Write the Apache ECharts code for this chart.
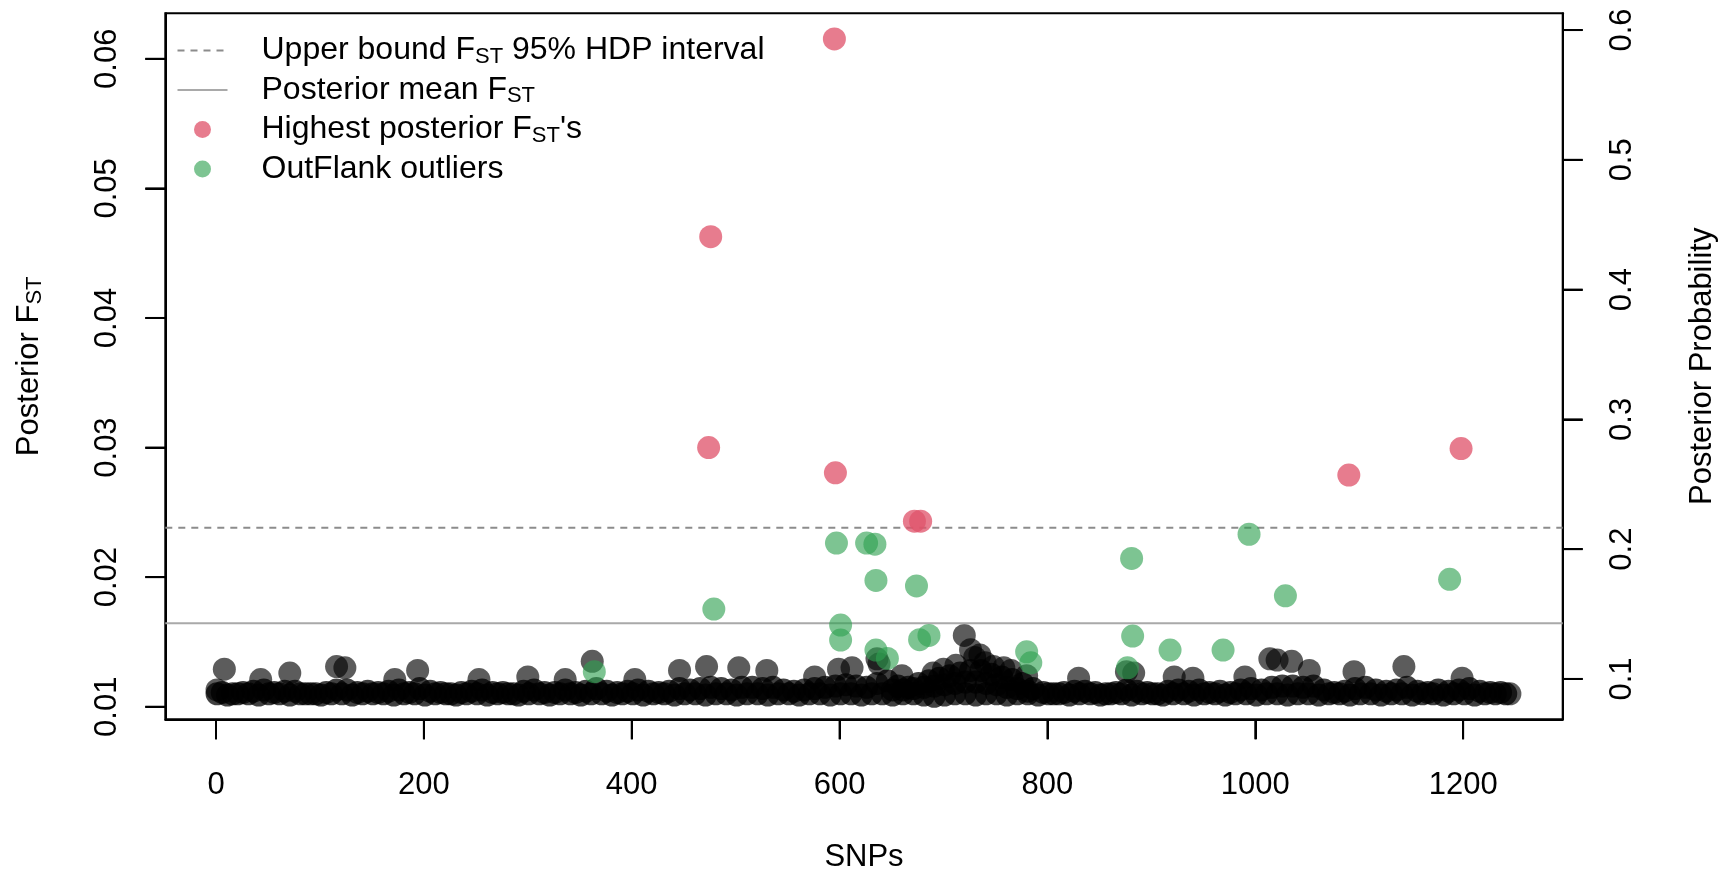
<!DOCTYPE html>
<html><head><meta charset="utf-8">
<script src="https://cdn.jsdelivr.net/npm/echarts@6/dist/echarts.min.js"></script>
<style>html,body{margin:0;padding:0;background:#fff}#c{width:1723px;height:872px}</style>
</head><body><div id="c"></div>
<script>
// ---- data ----
const xTicks = [0, 200, 400, 600, 800, 1000, 1200];
const fstTicks = [0.01, 0.02, 0.03, 0.04, 0.05, 0.06];
const probTicks = [0.1, 0.2, 0.3, 0.4, 0.5, 0.6];
const upperHDP = 0.02382;   // upper bound Fst 95% HDP interval
const meanFst = 0.01645;    // posterior mean Fst

// posterior Fst, bulk of SNPs (SNP 1, 11, 21, ...)
const bandBaseStart = 1, bandStep = 10;
const bandBase = [
0.0110,0.0109,0.0110,0.0110,0.0109,0.0110,0.0110,0.0109,0.0110,0.0110,
0.0109,0.0110,0.0110,0.0109,0.0110,0.0110,0.0110,0.0109,0.0110,0.0110,
0.0109,0.0110,0.0110,0.0109,0.0110,0.0110,0.0109,0.0110,0.0110,0.0109,
0.0110,0.0110,0.0109,0.0110,0.0110,0.0109,0.0110,0.0110,0.0109,0.0110,
0.0110,0.0109,0.0110,0.0110,0.0109,0.0110,0.0110,0.0109,0.0110,0.0110,
0.0109,0.0110,0.0110,0.0109,0.0110,0.0110,0.0109,0.0110,0.0110,0.0109,
0.0110,0.0110,0.0109,0.0110,0.0110,0.0109,0.0110,0.0110,0.0109,0.0108,
0.0109,0.0110,0.0110,0.0109,0.0110,0.0110,0.0109,0.0110,0.0110,0.0109,
0.0110,0.0110,0.0109,0.0110,0.0110,0.0109,0.0110,0.0110,0.0109,0.0110,
0.0110,0.0109,0.0110,0.0110,0.0109,0.0110,0.0110,0.0109,0.0110,0.0110,
0.0109,0.0110,0.0110,0.0109,0.0110,0.0110,0.0109,0.0110,0.0110,0.0109,
0.0110,0.0110,0.0109,0.0110,0.0110,0.0109,0.0110,0.0110,0.0109,0.0110,
0.0110,0.0109,0.0110,0.0110,0.0110
];
// upper edge of the bulk (SNP 6, 16, 26, ...)
const bandUpperStart = 6;
const bandUpper = [
0.0111,0.0110,0.0111,0.0112,0.0113,0.0111,0.0112,0.0112,0.0110,0.0110,
0.0111,0.0113,0.0113,0.0111,0.0112,0.0111,0.0112,0.0113,0.0111,0.0114,
0.0112,0.0111,0.0110,0.0111,0.0112,0.0113,0.0111,0.0111,0.0110,0.0112,
0.0113,0.0111,0.0111,0.0113,0.0111,0.0112,0.0114,0.0112,0.0111,0.0112,
0.0113,0.0112,0.0111,0.0112,0.0114,0.0113,0.0114,0.0115,0.0114,0.0113,
0.0115,0.0115,0.0114,0.0115,0.0113,0.0112,0.0113,0.0114,0.0115,0.0116,
0.0117,0.0116,0.0115,0.0118,0.0120,0.0116,0.0115,0.0118,0.0120,0.0122,
0.0124,0.0126,0.0128,0.0128,0.0125,0.0123,0.0121,0.0118,0.0114,0.0111,
0.0110,0.0111,0.0112,0.0112,0.0111,0.0110,0.0111,0.0113,0.0112,0.0111,
0.0110,0.0112,0.0113,0.0112,0.0113,0.0111,0.0112,0.0111,0.0113,0.0114,
0.0113,0.0115,0.0116,0.0116,0.0115,0.0116,0.0113,0.0111,0.0112,0.0114,
0.0115,0.0113,0.0112,0.0113,0.0115,0.0112,0.0111,0.0113,0.0112,0.0113,
0.0114,0.0112,0.0111,0.0111
];
// thicker mass of SNPs between ~650 and ~780
const blobSnp = [651,661,671,681,691,701,711,721,731,741,751,761,771,781];
const blobFst = [0.0113,0.0113,0.0114,0.0115,0.0116,0.0117,0.0118,0.0119,0.0119,0.0118,0.0117,0.0115,0.0114,0.0112];
// individual SNPs standing above the bulk [SNP, Fst]
const blackPeaks = [
[1,0.0113],[8,0.0129],[43,0.0121],[71,0.0126],[116,0.0131],[124,0.0130],[172,0.0121],
[194,0.0128],[253,0.0121],[300,0.0123],[336,0.0121],[362,0.0135],[403,0.0121],[446,0.0128],
[472,0.0131],[503,0.0130],[530,0.0128],[576,0.0123],[599,0.0129],[612,0.0130],[636,0.0137],
[638,0.0133],[660,0.0124],[690,0.0126],[700,0.0129],[712,0.0132],[720,0.0155],[726,0.0144],
[730,0.0138],[735,0.0140],[740,0.0134],[748,0.0131],[758,0.0130],[765,0.0128],[780,0.0124],
[830,0.0122],[876,0.0127],[883,0.0126],[922,0.0123],[940,0.0122],[990,0.0123],[1014,0.0137],
[1021,0.0136],[1035,0.0135],[1052,0.0128],[1095,0.0127],[1143,0.0131],[1199,0.0122],[1245,0.0110]
];
// OutFlank outliers
const outflankSnp = [364,479,597,601,601,626,634,635,635,646,674,677,686,780,784,877,881,882,918,969,994,1029,1187];
const outflankFst = [0.0127,0.01754,0.02263,0.01630,0.01514,0.02263,0.02254,0.01975,0.01437,0.01373,0.01932,0.01517,0.01550,0.01424,0.01339,0.01300,0.02144,0.01545,0.01437,0.01437,0.02331,0.01856,0.01983];
// highest posterior Fst's
const topSnp = [474,476,595,596,672,678,1090,1198];
const topFst = [0.0300,0.04627,0.06153,0.02805,0.02432,0.02432,0.02788,0.02992];

// ---- layout ----
const xMin = -48.8, xMax = 1295.8;
const yMin = 0.00903, yMax = 0.06351;
const pMin = 0.0689, pMax = 0.6129;
const FONT = 'Liberation Sans, Arial, Helvetica, sans-serif';
const TICK_LEN = 20;

const bandData = [];
bandBase.forEach((v, i) => bandData.push([bandBaseStart + i * bandStep, v]));
bandUpper.forEach((v, i) => bandData.push([bandUpperStart + i * bandStep, v]));
blobSnp.forEach((s, i) => bandData.push([s, blobFst[i]]));

const greenData = outflankSnp.map((s, i) => [s, outflankFst[i]]);
const redData = topSnp.map((s, i) => [s, topFst[i]]);

const richLegend = {
  g: { width: 29, fontSize: 32, lineHeight: 36 },
  n: { fontSize: 32, lineHeight: 36, color: '#000', fontFamily: FONT },
  s: { fontSize: 22, lineHeight: 22, padding: [12, 0, 0, 0], color: '#000', fontFamily: FONT }
};
const richAxis = {
  n: { fontSize: 31, lineHeight: 36, color: '#000', fontFamily: FONT },
  s: { fontSize: 22, lineHeight: 22, padding: [12, 0, 0, 0], color: '#000', fontFamily: FONT }
};
const legendLabels = {
  'upper': '{g| }{n|Upper bound F}{s|ST}{n| 95% HDP interval}',
  'mean': '{g| }{n|Posterior mean F}{s|ST}',
  'top': "{g| }{n|Highest posterior F}{s|ST}{n|'s}",
  'outflank': '{g| }{n|OutFlank outliers}'
};
const hideSymbol = { color: 'rgba(0,0,0,0)', borderColor: 'rgba(0,0,0,0)', borderWidth: 0, opacity: 0 };
const axisLineStyle = { show: true, onZero: false, lineStyle: { color: '#000', width: 2 } };
const tickStyle = { show: true, inside: false, length: TICK_LEN, lineStyle: { color: '#000', width: 2 } };

// outward tick marks drawn through the axes' scales (api.coord)
function tickSeries(name, yAxisIndex, data, dx, dy) {
  return {
    name, type: 'custom', xAxisIndex: 0, yAxisIndex, data, clip: false, silent: true, z: 10,
    encode: { x: 0, y: 1 },
    renderItem: (params, api) => {
      const p = api.coord([api.value(0), api.value(1)]);
      return { type: 'line', shape: { x1: p[0], y1: p[1], x2: p[0] + dx, y2: p[1] + dy },
               style: { stroke: '#000', lineWidth: 2 } };
    }
  };
}

const chart = echarts.init(document.getElementById('c'), null, { renderer: 'canvas' });
chart.setOption({
  animation: false,
  backgroundColor: '#fff',
  textStyle: { fontFamily: FONT },
  grid: { left: 165.3, right: 160.3, top: 13.3, bottom: 152.7, containLabel: false, outerBoundsMode: 'none',
          show: true, borderColor: '#000', borderWidth: 2, backgroundColor: 'transparent' },
  legend: {
    left: 171.5, top: 27.5, orient: 'vertical', itemWidth: 50, itemHeight: 17, itemGap: 3.5,
    selectedMode: false,
    data: [
      { name: 'upper', itemStyle: hideSymbol },
      { name: 'mean', itemStyle: hideSymbol },
      'top', 'outflank'
    ],
    formatter: n => legendLabels[n],
    textStyle: { fontSize: 32, color: '#000', fontFamily: FONT, lineHeight: 36, rich: richLegend }
  },
  xAxis: {
    type: 'value', min: xMin, max: xMax,
    name: 'SNPs', nameLocation: 'middle', nameGap: 123,
    nameTextStyle: { fontSize: 31, color: '#000', fontFamily: FONT },
    axisLine: axisLineStyle,
    splitLine: { show: false },
    axisTick: Object.assign({ customValues: xTicks }, tickStyle),
    axisLabel: { customValues: xTicks, margin: 51, fontSize: 31, color: '#000', fontFamily: FONT, formatter: v => String(v) }
  },
  yAxis: [{
    type: 'value', min: yMin, max: yMax, position: 'left',
    name: '{n|Posterior F}{s|ST}', nameLocation: 'middle', nameRotate: 90, nameGap: 118,
    nameTextStyle: { fontSize: 31, color: '#000', rich: richAxis },
    axisLine: axisLineStyle,
    splitLine: { show: false },
    axisTick: Object.assign({ customValues: fstTicks }, tickStyle),
    axisLabel: { customValues: fstTicks, rotate: 90, margin: 42, fontSize: 31, color: '#000', fontFamily: FONT, formatter: v => v.toFixed(2) }
  }, {
    type: 'value', min: pMin, max: pMax, position: 'right',
    name: 'Posterior Probability', nameLocation: 'middle', nameRotate: 90, nameGap: 124,
    nameTextStyle: { fontSize: 31, color: '#000', fontFamily: FONT },
    axisLine: axisLineStyle,
    splitLine: { show: false },
    axisTick: Object.assign({ customValues: probTicks }, tickStyle),
    axisLabel: { customValues: probTicks, rotate: 90, margin: 44, fontSize: 31, color: '#000', fontFamily: FONT, formatter: v => v.toFixed(1) }
  }],
  series: [
    { name: 'bulk', type: 'scatter', data: bandData, symbolSize: 23, itemStyle: { color: 'rgba(0,0,0,0.93)' }, z: 2, silent: true },
    { name: 'peaks', type: 'scatter', data: blackPeaks, symbolSize: 23, itemStyle: { color: 'rgba(0,0,0,0.8)' }, z: 2, silent: true },
    { name: 'upper', type: 'line', data: [[xMin, upperHDP], [xMax, upperHDP]], symbol: 'none', lineStyle: { color: '#8c8c8c', width: 2, type: [7, 6] }, itemStyle: { color: '#8c8c8c' }, z: 3 },
    { name: 'mean', type: 'line', data: [[xMin, meanFst], [xMax, meanFst]], symbol: 'none', lineStyle: { color: '#a9a9a9', width: 2 }, itemStyle: { color: '#a9a9a9' }, z: 3 },
    { name: 'outflank', type: 'scatter', data: greenData, symbolSize: 23, itemStyle: { color: 'rgba(46,160,80,0.78)' }, z: 4 },
    { name: 'top', type: 'scatter', data: redData, symbolSize: 23, itemStyle: { color: 'rgba(223,83,107,0.95)' }, z: 5 },
    tickSeries('xTickMarks', 0, xTicks.map(v => [v, yMin]), 0, TICK_LEN),
    tickSeries('fstTickMarks', 0, fstTicks.map(v => [xMin, v]), -TICK_LEN, 0),
    tickSeries('probTickMarks', 1, probTicks.map(v => [xMax, v]), TICK_LEN, 0)
  ]
});
</script></body></html>
